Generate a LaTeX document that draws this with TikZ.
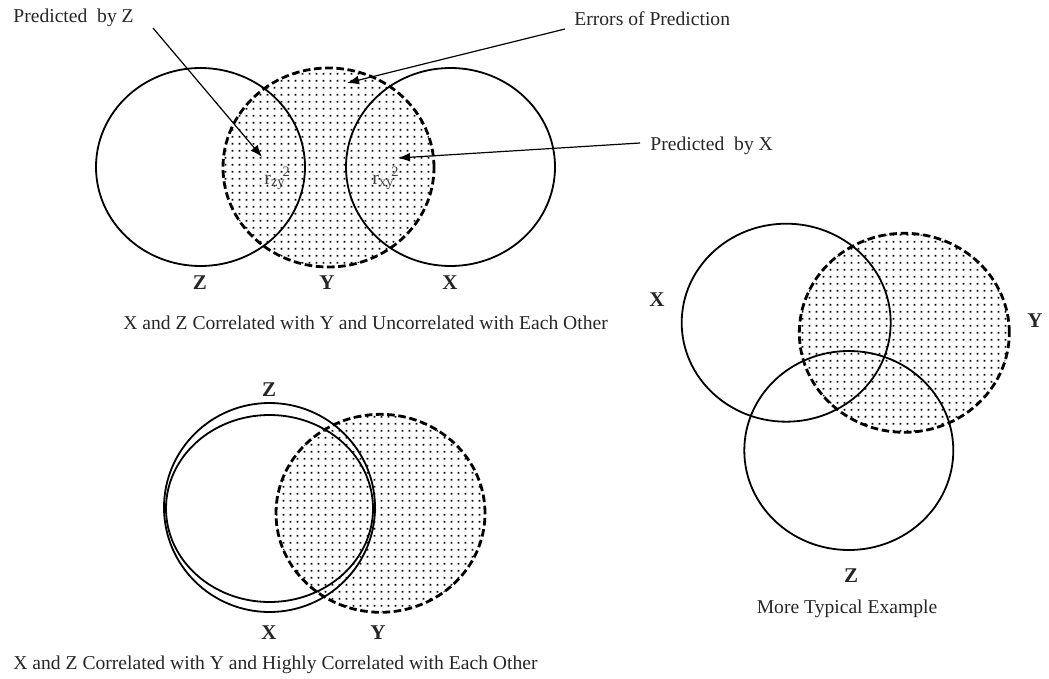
\documentclass[tikz,border=0pt]{standalone}
\usepackage{fontspec}
\setmainfont{Liberation Serif}
\usetikzlibrary{shapes.geometric,arrows.meta,patterns}
\pgfdeclarepatternformonly{vdots}{\pgfqpoint{0pt}{0pt}}{\pgfqpoint{3.7pt}{3.5pt}}{\pgfqpoint{3.7pt}{3.5pt}}{%
  \pgfpathrectangle{\pgfqpoint{1.4pt}{1.3pt}}{\pgfqpoint{1pt}{1pt}}\pgfusepath{fill}}
\begin{document}
\begin{tikzpicture}[x=0.5pt,y=-0.5pt,
  circ/.style={ellipse,draw,line width=0.9pt,inner sep=0pt,outer sep=0pt},
  ycirc/.style={ellipse,draw,line width=1.4pt,dash pattern=on 3.8pt off 1.8pt,pattern=vdots,pattern color=black,inner sep=0pt,outer sep=0pt},
  lbl/.style={font=\fontsize{10.5}{12}\selectfont\bfseries,inner sep=0pt,text=black!85},
  txt/.style={font=\fontsize{9.8}{12}\selectfont,inner sep=0pt,text=black!85},
  rlab/.style={font=\fontsize{10}{11}\selectfont,inner sep=0pt,text=black!75},
  arr/.style={line width=0.6pt,-{Latex[length=6pt,width=4.5pt]}}]
\useasboundingbox (0,0) rectangle (1049,679);

% ---------- top diagram ----------
\node[ycirc,minimum width=105.5pt,minimum height=99.5pt] (Yt) at (328.5,167.5) {};
\node[circ,minimum width=104.5pt,minimum height=99pt] (Zt) at (200.5,167) {};
\node[circ,minimum width=104.5pt,minimum height=99pt] (Xt) at (450.5,167) {};
\node[lbl] (Ztl) at (200,283) {Z};
\node[lbl] (Ytl) at (327,283) {Y};
\node[lbl] (Xtl) at (450,283) {X};
\node[txt,anchor=base west] (capt) at (123,329) {X and Z Correlated with Y and Uncorrelated with Each Other};

\node[rlab,anchor=base west] (rzy) at (264,185) {r\raisebox{-1pt}{\fontsize{7.2}{8}\selectfont zy}\kern-1pt\raisebox{4.3pt}{\fontsize{7.2}{8}\selectfont 2}};
\node[rlab,anchor=base west] (rxy) at (372,185) {r\raisebox{-1pt}{\fontsize{7.2}{8}\selectfont xy}\kern-1pt\raisebox{4.3pt}{\fontsize{7.2}{8}\selectfont 2}};

\node[txt,anchor=base west] (pz) at (13,23) {Predicted\ \ by Z};
\node[txt,anchor=base west] (pe) at (574,26) {Errors of Prediction};
\node[txt,anchor=base west] (px) at (650,150.5) {Predicted\ \ by X};
\coordinate (pzs) at (153,28);  \coordinate (pzt) at (262,157);
\coordinate (pes) at (565,29);  \coordinate (pet) at (347,83);
\coordinate (pxs) at (640,143); \coordinate (pxt) at (398,158);
\draw[arr] (pzs) -- (pzt);
\draw[arr] (pes) -- (pet);
\draw[arr] (pxs) -- (pxt);

% ---------- bottom-left diagram ----------
\node[ycirc,minimum width=104.5pt,minimum height=99pt] (Yb) at (380.5,513.3) {};
\node[circ,minimum width=105.5pt,minimum height=104.5pt] (Zb) at (269.5,507.5) {};
\node[circ,minimum width=103.5pt,minimum height=93.5pt] (Xb) at (269.5,508.5) {};
\node[lbl] (Zbl) at (269,390) {Z};
\node[lbl] (Xbl) at (269,633) {X};
\node[lbl] (Ybl) at (378,633) {Y};
\node[txt,anchor=base west] (capb) at (13,669) {X and Z Correlated with Y and Highly Correlated with Each Other};

% ---------- right diagram ----------
\node[ycirc,minimum width=105pt,minimum height=99.5pt] (Yr) at (904.3,332.8) {};
\node[circ,minimum width=104.5pt,minimum height=99pt] (Xr) at (786.2,322.7) {};
\node[circ,minimum width=104.5pt,minimum height=99.5pt] (Zr) at (848.8,450.5) {};
\node[lbl] (Xrl) at (657,300) {X};
\node[lbl] (Yrl) at (1035,321) {Y};
\node[lbl] (Zrl) at (851,576) {Z};
\node[txt,anchor=base] (capr) at (847,613) {More Typical Example};
\end{tikzpicture}
\end{document}
